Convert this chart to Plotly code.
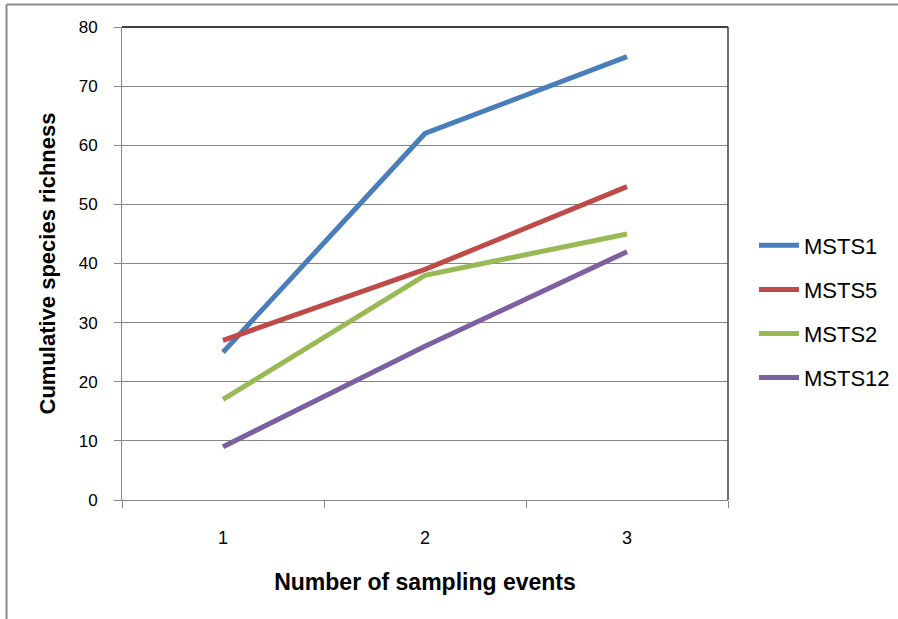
import plotly.graph_objects as go

categories = ["1", "2", "3"]
series_names = ["MSTS1", "MSTS5", "MSTS2", "MSTS12"]
msts1 = [25, 62, 75]
msts5 = [27, 39, 53]
msts2 = [17, 38, 45]
msts12 = [9, 26, 42]
y_ticks = [0, 10, 20, 30, 40, 50, 60, 70, 80]

colors = ["#4A7EBB", "#BE4B48", "#98B954", "#7D60A0"]
values = [msts1, msts5, msts2, msts12]

W, H = 898, 619
L, R, T, B = 122, 170, 27, 119
pw, ph = W - L - R, H - T - B

fig = go.Figure()
for name, vals, c in zip(series_names, values, colors):
    fig.add_trace(go.Scatter(
        x=categories, y=vals, mode="lines", name=name, legendgroup=name,
        line=dict(color=c, width=5),
    ))

font = "Liberation Sans"
fig.update_layout(
    width=W, height=H,
    margin=dict(l=L, r=R, t=T, b=B, autoexpand=False),
    paper_bgcolor="white", plot_bgcolor="white",
    font=dict(family=font, color="#000000"),
    showlegend=True,
    legend=dict(
        x=(754 - L) / pw, xanchor="left",
        y=(500 - 224.5) / ph, yanchor="top",
        font=dict(size=22, family=font),
        tracegroupgap=12.5,
        itemwidth=40,
        bgcolor="rgba(0,0,0,0)",
    ),
    xaxis=dict(
        type="category", tickson="boundaries", range=[-0.5, 2.5],
        showgrid=False, showline=True, linecolor="#868686", linewidth=1,
        ticks="outside", ticklen=7, tickcolor="#868686",
        tickfont=dict(size=18, family=font),
        ticklabelstandoff=21,
        title=dict(text="<b>Number of sampling events</b>", font=dict(size=23, family=font), standoff=27),
        automargin=False,
    ),
    yaxis=dict(
        range=[0, 80], tickvals=y_ticks,
        showgrid=True, gridcolor="#868686", gridwidth=1,
        showline=True, linecolor="#868686", linewidth=1,
        zeroline=False,
        ticks="outside", ticklen=7, tickcolor="#868686",
        tickfont=dict(size=17, family=font),
        ticklabelstandoff=13,
        title=dict(text="<b>Cumulative species richness</b>", font=dict(size=22, family=font), standoff=16),
        automargin=False,
    ),
    shapes=[
        dict(type="line", xref="paper", yref="paper", x0=0, x1=1, y0=1, y1=1,
             line=dict(color="#000000", width=1.5)),
        dict(type="line", xref="paper", yref="paper", x0=1, x1=1, y0=0, y1=1,
             line=dict(color="#404040", width=1.5)),
        dict(type="line", xref="paper", yref="paper",
             x0=(6.5 - L) / pw, x1=(W - L) / pw, y0=(500 - 4.5) / ph, y1=(500 - 4.5) / ph,
             line=dict(color="#8C8C8C", width=2)),
        dict(type="line", xref="paper", yref="paper",
             x0=(6.5 - L) / pw, x1=(6.5 - L) / pw, y0=(500 - 4.5) / ph, y1=(500 - H) / ph,
             line=dict(color="#8C8C8C", width=2)),
    ],
)

fig.write_html("out.html", config={"displayModeBar": False},
               post_script="document.body.style.margin='0px';")
